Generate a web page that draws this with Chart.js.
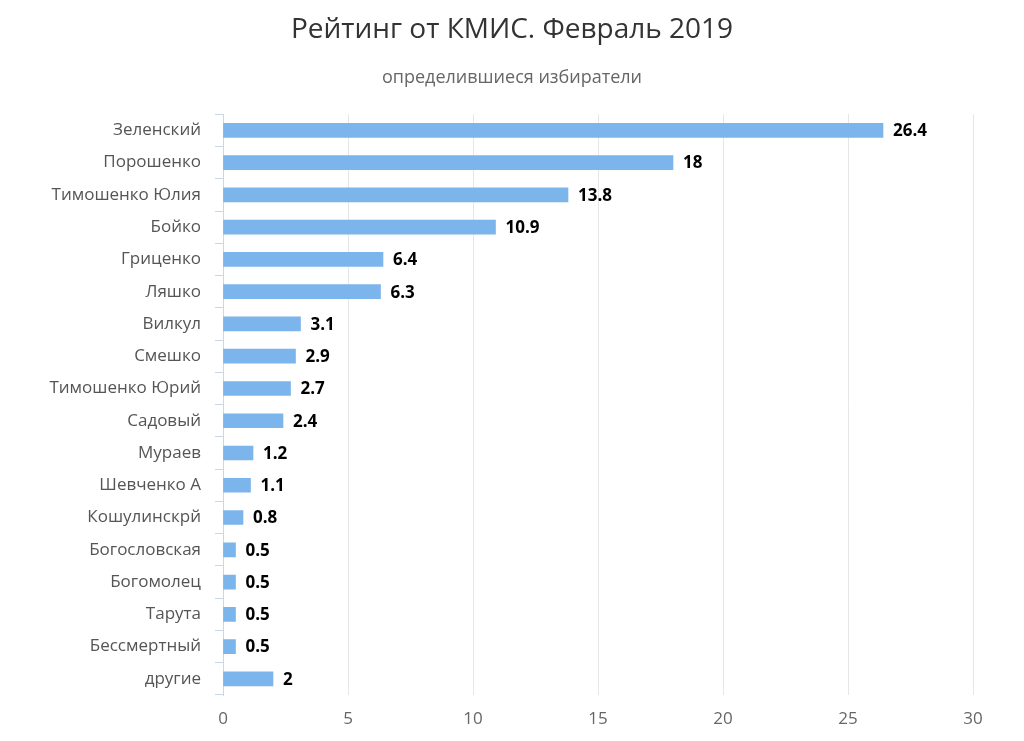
<!DOCTYPE html>
<html lang="ru">
<head>
<meta charset="UTF-8">
<title>Рейтинг от КМИС. Февраль 2019</title>
<script src="https://cdn.jsdelivr.net/npm/chart.js"></script>
<style>
  html, body { margin: 0; padding: 0; background: #fff; }
  #wrap { width: 1024px; height: 741px; }
</style>
</head>
<body>
<div id="wrap"><canvas id="myChart"></canvas></div>
<script>
const candidates = [
  "Зеленский", "Порошенко", "Тимошенко Юлия", "Бойко", "Гриценко", "Ляшко",
  "Вилкул", "Смешко", "Тимошенко Юрий", "Садовый", "Мураев", "Шевченко А",
  "Кошулинскрй", "Богословская", "Богомолец", "Тарута", "Бессмертный", "другие"
];
const rating = [26.4, 18, 13.8, 10.9, 6.4, 6.3, 3.1, 2.9, 2.7, 2.4, 1.2, 1.1, 0.8, 0.5, 0.5, 0.5, 0.5, 2];
const xTicks = [0, 5, 10, 15, 20, 25, 30];

// value labels at the end of each bar
const barLabels = {
  id: "barLabels",
  afterDatasetsDraw(chart) {
    const ctx = chart.ctx;
    const meta = chart.getDatasetMeta(0);
    ctx.save();
    ctx.font = "bold 17px 'Open Sans', sans-serif";
    ctx.fillStyle = "#000";
    ctx.textAlign = "left";
    ctx.textBaseline = "middle";
    meta.data.forEach((bar, i) => {
      ctx.fillText(String(rating[i]), bar.x + 10, bar.y + 1);
    });
    ctx.restore();
  }
};

const ctx = document.getElementById("myChart").getContext("2d");
const myChart = new Chart(ctx, {
  type: "bar",
  data: {
    labels: candidates,
    datasets: [{
      data: rating,
      backgroundColor: "#7cb5ec",
      barThickness: 14
    }]
  },
  options: {
    indexAxis: "y",
    responsive: true,
    maintainAspectRatio: false,
    animation: false,
    layout: { padding: { left: 0, right: 0, top: 0, bottom: 14 } },
    plugins: {
      legend: { display: false },
      tooltip: { enabled: false },
      title: {
        display: true,
        text: "Рейтинг от КМИС. Февраль 2019",
        color: "#333",
        font: { family: "'Open Sans', sans-serif", size: 28, weight: "normal" },
        padding: { top: 13, bottom: 19 }
      },
      subtitle: {
        display: true,
        text: "определившиеся избиратели",
        color: "#666",
        font: { family: "'Open Sans', sans-serif", size: 18 },
        padding: { top: 1, bottom: 26 }
      }
    },
    scales: {
      x: {
        min: 0,
        max: 30,
        afterBuildTicks: (scale) => { scale.ticks = xTicks.map((v) => ({ value: v })); },
        afterFit: (scale) => { scale.height = 32; },
        border: { display: false },
        grid: {
          color: (c) => (c.tick && c.tick.value === 0 ? "rgba(0,0,0,0)" : "#e6e6e6"),
          drawTicks: false
        },
        ticks: {
          color: "#666",
          padding: 14,
          font: { family: "'Liberation Sans Narrow', 'Open Sans', sans-serif", size: 17 }
        }
      },
      y: {
        afterFit: (scale) => { scale.width = 223; },
        border: { display: true, color: "#ccd6eb" },
        grid: {
          offset: true,
          drawOnChartArea: false,
          drawTicks: true,
          tickLength: 8,
          color: "#ccd6eb"
        },
        ticks: {
          color: "#555",
          padding: 14,
          font: { family: "'Open Sans', sans-serif", size: 17 }
        }
      },
      // empty right-hand axis: keeps the right margin without shifting the title
      spacer: {
        type: "linear",
        position: "right",
        afterFit: (scale) => { scale.width = 51; },
        border: { display: false },
        grid: { display: false },
        ticks: { display: false }
      }
    }
  },
  plugins: [barLabels]
});
</script>
</body>
</html>
